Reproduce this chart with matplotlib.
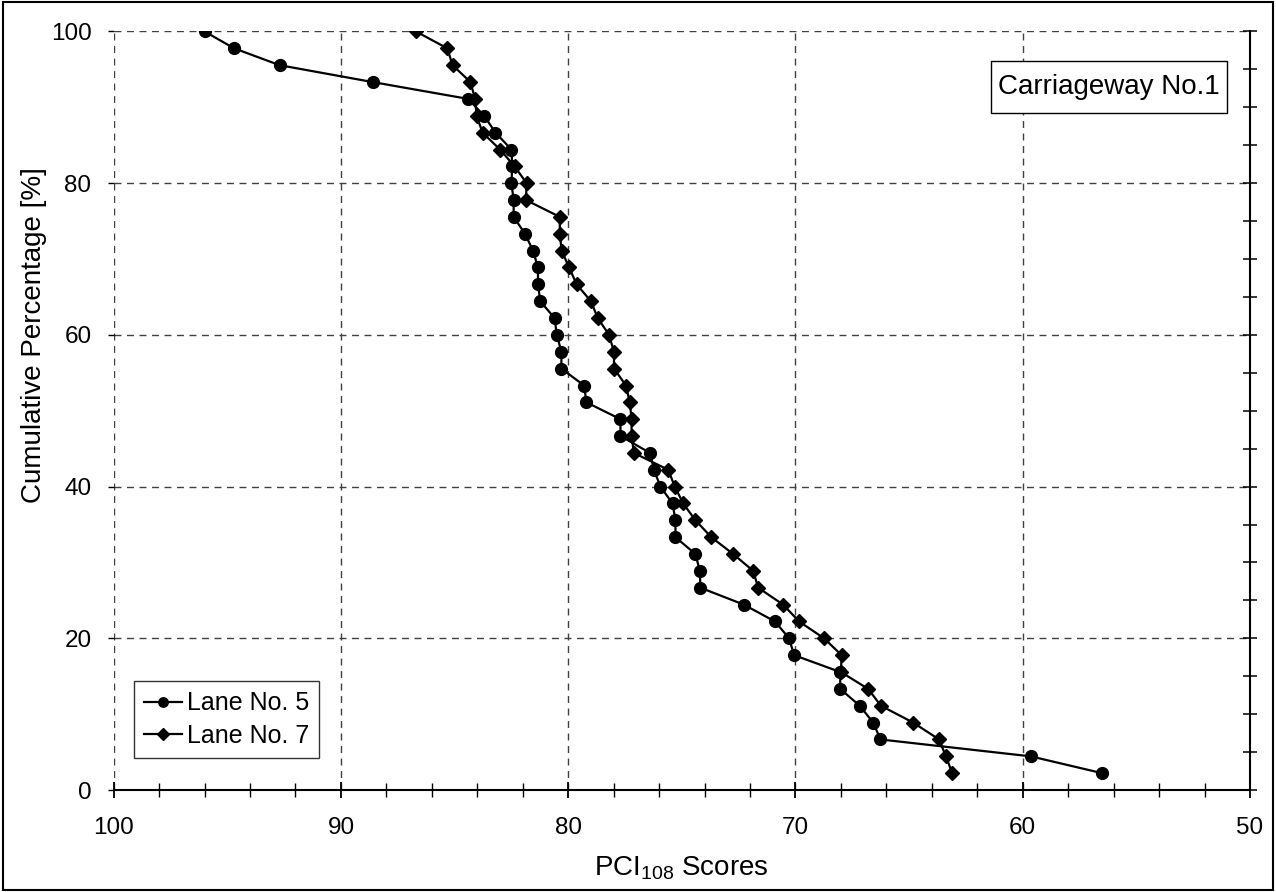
import numpy as np
import matplotlib
matplotlib.use("Agg")
import matplotlib.pyplot as plt
from matplotlib.ticker import MultipleLocator
from matplotlib.patches import Rectangle

plt.rcParams['font.family'] = ['Liberation Sans', 'DejaVu Sans']
plt.rcParams['mathtext.default'] = 'regular'

# cumulative percentage, 45 steps of 100/45
cum_pct = [round(100 - i * 100 / 45, 2) for i in range(45)]

lane5 = [96.0, 94.7, 92.7, 88.6, 84.4, 83.7, 83.2, 82.5, 82.46, 82.5,
         82.4, 82.4, 81.9, 81.55, 81.33, 81.33, 81.23, 80.6, 80.5, 80.3,
         80.3, 79.3, 79.2, 77.7, 77.7, 76.4, 76.23, 75.94, 75.41, 75.28,
         75.28, 74.4, 74.21, 74.18, 72.27, 70.9, 70.28, 70.06, 68.03, 68.03,
         67.17, 66.58, 66.26, 59.64, 56.5]

lane7 = [86.7, 85.32, 85.09, 84.3, 84.1, 84.03, 83.77, 83.0, 82.36, 81.83,
         81.86, 80.37, 80.37, 80.29, 79.96, 79.63, 79.0, 78.7, 78.2, 77.99,
         77.98, 77.46, 77.29, 77.21, 77.21, 77.11, 75.6, 75.31, 74.94, 74.4,
         73.7, 72.74, 71.86, 71.64, 70.54, 69.84, 68.74, 67.97, 68.0, 66.8,
         66.24, 64.82, 63.68, 63.38, 63.1]

fig = plt.figure(figsize=(12.76, 8.92), dpi=100)
ax = fig.add_axes([0.0891, 0.1143, 0.8905, 0.8504])

ax.plot(lane5, cum_pct, color='black', lw=1.6, marker='o', ms=8.5,
        label='Lane No. 5')
ax.plot(lane7, cum_pct, color='black', lw=1.6, marker='D', ms=7.3,
        label='Lane No. 7')

ax.set_xlim(100, 50)
ax.set_ylim(0, 100)
ax.xaxis.set_major_locator(MultipleLocator(10))
ax.xaxis.set_minor_locator(MultipleLocator(2))
ax.yaxis.set_major_locator(MultipleLocator(20))

ax.grid(True, which='major', color='#404040', linestyle=(0, (5, 4)), lw=1.0)
ax.set_axisbelow(True)

for s in ['left', 'top']:
    ax.spines[s].set_visible(False)
ax.spines['bottom'].set_linewidth(1.5)
ax.spines['right'].set_linewidth(1.5)

ax.tick_params(axis='x', which='major', direction='inout', length=11, width=1.3,
               labelsize=17.5, pad=14)
ax.tick_params(axis='x', which='minor', direction='inout', length=9.5, width=1.0)
ax.tick_params(axis='y', which='major', direction='out', length=4, width=1.0,
               labelsize=17.5, pad=12, right=False)

ax2 = ax.twinx()
ax2.set_ylim(0, 100)
ax2.yaxis.set_major_locator(MultipleLocator(5))
ax2.tick_params(axis='y', direction='inout', length=9.5, width=1.1,
                labelright=False)
for s in ['left', 'top', 'bottom', 'right']:
    ax2.spines[s].set_visible(False)

ax.set_xlabel('PCI$_{108}$ Scores', fontsize=20, labelpad=11)
ax.set_ylabel('Cumulative Percentage [%]', fontsize=20)
ax.yaxis.set_label_coords(-0.059, 0.60)

leg = ax.legend(loc='lower left', bbox_to_anchor=(0.018, 0.042), fontsize=18,
                frameon=True, fancybox=False, edgecolor='black',
                handlelength=1.5, borderpad=0.4, labelspacing=0.35,
                handletextpad=0.2, borderaxespad=0, markerscale=0.8)
leg.get_frame().set_linewidth(1.0)

# label box
ax.add_patch(Rectangle((0.7718, 0.8922), 0.2077, 0.0693,
                       transform=ax.transAxes, fc='white', ec='black',
                       lw=1.0, zorder=5))
ax.text(0.8757, 0.9268, 'Carriageway No.1', transform=ax.transAxes,
        fontsize=20, ha='center', va='center', zorder=6)

fig.patches.append(Rectangle((0.002, 0.002), 0.996, 0.996,
                             transform=fig.transFigure, fill=False,
                             ec='black', lw=1.5))

fig.savefig('out.png', dpi=100)
